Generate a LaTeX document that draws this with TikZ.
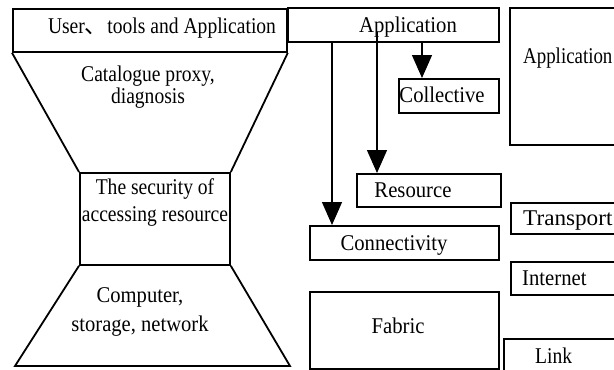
\documentclass[tikz,border=0pt]{standalone}
\usepackage{fontspec}
\setmainfont{Liberation Serif}
\newfontfamily\cjk{Noto Sans CJK SC}
% condensed cuts of the serif face for the different labels
\newfontfamily\condA{Liberation Serif}[FakeStretch=0.87]
\newfontfamily\condB{Liberation Serif}[FakeStretch=0.92]
\newfontfamily\condC{Liberation Serif}[FakeStretch=0.84]
\newfontfamily\wideA{Liberation Serif}[FakeStretch=1.03]
\usetikzlibrary{arrows.meta}
\begin{document}
\begin{tikzpicture}[x=1pt,y=-1pt,
  box/.style={draw, line width=1.8pt, rectangle, inner sep=0pt, anchor=north west},
  txt/.style={inner sep=0pt, align=center, font=\fontsize{22.5}{22}\condB},
  arr/.style={line width=1.4pt, -{Triangle[length=23pt,width=20pt]}},
  edge/.style={line width=1.8pt, line join=miter}]
\useasboundingbox (0,0) rectangle (614,370);
\clip (0,0) rectangle (614,370);

% hourglass on the left
\node[box, minimum width=274pt, minimum height=43pt] (user) at (12,8) {};
\node[box, minimum width=150pt, minimum height=92pt] (sec) at (79,172) {};
\draw[edge] (user.south west) -- (sec.north west);
\draw[edge] (user.south east) -- (sec.north east);
\draw[edge] (sec.south west) -- (15,366) -- (290,366) -- (sec.south east);

\node[txt, anchor=base, font=\fontsize{22.5}{22}\condA] (tuser) at (162,33) {User{\cjk 、}tools and Application};
\node[txt, font=\fontsize{22.5}{22}\condA] (tcat) at (148,87) {Catalogue proxy,\\ diagnosis};
\node[txt, font=\fontsize{22.5}{27}\condA] (tsec) at (155,203) {The security of\\ accessing resource};
\node[txt, font=\fontsize{22.5}{29}\selectfont\addfontfeature{FakeStretch=0.915}] (tcomp) at (140,312) {Computer,\\ storage, network};

% layered architecture in the middle
\node[box, minimum width=211pt, minimum height=34pt] (app) at (287,7) {};
\node[box, minimum width=100pt, minimum height=34pt] (coll) at (398,78) {};
\node[box, minimum width=144pt, minimum height=33pt] (res) at (356,173) {};
\node[box, minimum width=189pt, minimum height=34pt] (conn) at (309,225) {};
\node[box, minimum width=189pt, minimum height=77pt] (fab) at (309,291) {};

\node[txt, anchor=base] (tapp) at (408,32) {Application};
\node[txt, anchor=base] (tcoll) at (442,102) {Collective};
\node[txt, anchor=base] (tres) at (413,197) {Resource};
\node[txt, anchor=base] (tconn) at (394,250) {Connectivity};
\node[txt, anchor=base] (tfab) at (398,333) {Fabric};

\coordinate (s1) at (422,41);
\coordinate (s2) at (377,32);
\coordinate (s3) at (332,41);
\draw[arr] (s1) -- (s1 |- coll.north);
\draw[arr] (s2) -- (s2 |- res.north);
\draw[arr] (s3) -- (s3 |- conn.north);

% protocol stack on the right
\node[box, minimum width=140pt, minimum height=137pt] (rapp) at (509,7) {};
\node[box, minimum width=140pt, minimum height=31pt] (trans) at (510,202) {};
\node[box, minimum width=140pt, minimum height=33pt] (inet) at (510,261) {};
\node[box, minimum width=140pt, minimum height=50pt] (link) at (503,338) {};

\node[txt, anchor=base west, font=\fontsize{22.5}{22}\condC] (trapp) at (523,63) {Application};
\node[txt, anchor=base west, font=\fontsize{22.5}{22}\wideA] (ttrans) at (523,225) {Transport};
\node[txt, anchor=base west] (tinet) at (522,285) {Internet};
\node[txt, anchor=base west, font=\fontsize{22.5}{22}\condA] (tlink) at (535,363) {Link};
\end{tikzpicture}
\end{document}
